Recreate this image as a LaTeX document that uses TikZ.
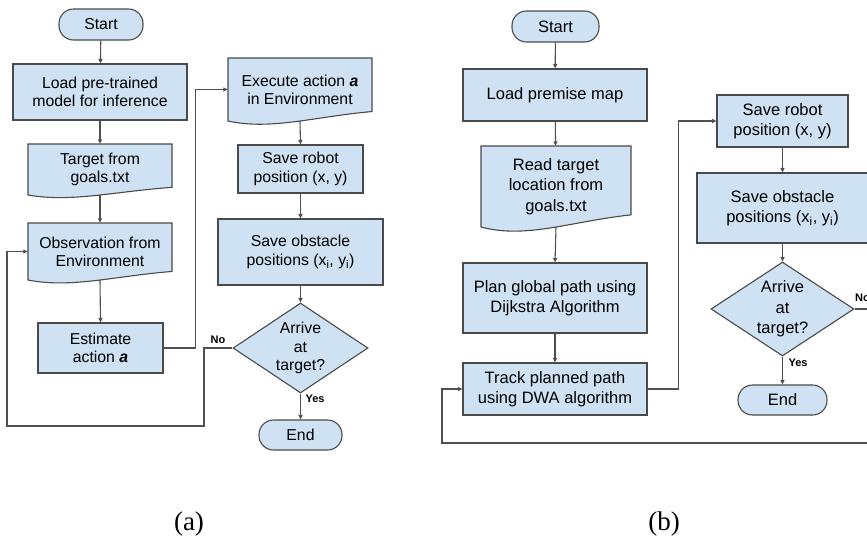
\documentclass[tikz,border=0pt]{standalone}
\usepackage{fontspec}
\setmainfont{Liberation Sans}
\newfontfamily\capfont{Liberation Serif}
\usetikzlibrary{shapes.geometric,arrows.meta}
\definecolor{fillblue}{HTML}{CFE2F3}
\definecolor{edgegray}{HTML}{4A4A4A}
\definecolor{linegray}{HTML}{505050}
\tikzset{
  fa/.style={font=\fontsize{15.8}{18.2}\selectfont},
  fb/.style={font=\fontsize{16.5}{20.3}\selectfont},
  box/.style={draw=edgegray, fill=fillblue, line width=1.1pt, inner sep=0pt, align=center},
  term/.style={box, rounded corners=14.5pt},
  dia/.style={diamond, draw=edgegray, fill=fillblue, line width=1.1pt, inner sep=0pt},
  doctext/.style={inner sep=0pt, align=center},
  docshape/.style={draw=edgegray, fill=fillblue, line width=1.1pt},
  conn/.style={draw=linegray, line width=1.1pt, -{Triangle[length=4.5pt,width=4pt]}},
  lbl/.style={font=\fontsize{11}{13}\selectfont\bfseries, inner sep=0pt},
  captext/.style={font=\capfont\fontsize{27}{30}\selectfont, inner sep=0pt}
}
% #1 name, #2 x1, #3 x2, #4 ytop, #5 y bottom-left, #6 style, #7 text
\newcommand\docnode[7]{%
  \draw[docshape] (#2,#4) -- (#3,#4) -- ({#3},{#5-0.15*(#5-#4)})
    .. controls ({#2+0.6*(#3-#2)},{#5-0.07*(#5-#4)}) and ({#2+0.3*(#3-#2)},{#5+0.15*(#5-#4)}) .. (#2,#5) -- cycle;
  \node[doctext, #6, minimum width={(#3-#2)*1pt}, minimum height={(#5-#4)*1pt}] (#1) at ({(#2+#3)/2},{(#4+#5)/2}) {#7};}
\begin{document}
\begin{tikzpicture}[x=1pt, y=-1pt]
\useasboundingbox (0,0) rectangle (867,542);
\clip (0,0) rectangle (867,542);

% ---------------- panel (a) ----------------
\node[term, fa, minimum width=84pt, minimum height=31pt] (sa) at (101,24.5) {Start};
\node[box, fa, minimum width=174pt, minimum height=56pt] (la) at (100,92) {Load pre-trained\\model for inference};
\docnode{ta}{28}{172}{144}{195}{fa}{Target from\\goals.txt}
\docnode{oa}{28}{172}{223}{280}{fa}{Observation from\\Environment}
\node[box, fa, minimum width=125pt, minimum height=50pt] (ea) at (100.5,348) {Estimate\\action \textbf{\textit{a}}};
\docnode{xa}{228}{372}{58}{121}{fa}{Execute action \textbf{\textit{a}}\\in Environment}
\node[box, fa, minimum width=125pt, minimum height=48pt] (ra) at (300.5,169) {Save robot\\position (x, y)};
\node[box, fa, minimum width=165pt, minimum height=66pt] (pa) at (300.5,252) {Save obstacle\\positions (x\textsubscript{i}, y\textsubscript{i})};
\node[dia, minimum width=135pt, minimum height=90pt] (da) at (300.5,348) {};
\node[doctext, fa] at (da) {Arrive\\at\\target?};
\node[term, fa, minimum width=83pt, minimum height=30pt] (ena) at (300.5,435) {End};

\draw[conn] (sa) -- (la);
\draw[conn] (la) -- (ta);
\draw[conn] (ta.south) -- (oa.north);
\draw[conn] (oa.south) -- (ea.north);
\draw[conn] (ea.east) -- ++(32,0) |- (xa.west);
\draw[conn] (xa.south) -- (ra.north);
\draw[conn] (ra) -- (pa);
\draw[conn] (pa.south) -- (da.north);
\draw[conn] (da.south) -- (ena.north);
\draw[conn] (da.west) -- (204,348) -- (204,426) -- (7,426) |- (oa.west);
\node[lbl] at (218,340) {No};
\node[lbl] at (315,399) {Yes};

% ---------------- panel (b) ----------------
\node[term, fb, minimum width=87pt, minimum height=31pt] (sb) at (555.5,26.5) {Start};
\node[box, fb, minimum width=184pt, minimum height=52pt] (lb) at (555,95) {Load premise map};
\docnode{tb}{481}{631}{146}{227}{fb}{Read target\\location from\\goals.txt}
\node[box, fb, minimum width=184pt, minimum height=70pt] (pb) at (555,298) {Plan global path using\\Dijkstra Algorithm};
\node[box, fb, minimum width=184pt, minimum height=52pt] (kb) at (555,389) {Track planned path\\using DWA algorithm};
\node[box, fb, minimum width=131pt, minimum height=52pt] (rb) at (782.5,121) {Save robot\\position (x, y)};
\node[box, fb, minimum width=171pt, minimum height=70pt] (ob) at (782.5,208) {Save obstacle\\positions (x\textsubscript{i}, y\textsubscript{i})};
\node[dia, minimum width=143pt, minimum height=94pt] (db) at (782.5,309) {};
\node[doctext, fb] at (db) {Arrive\\at\\target?};
\node[term, fb, minimum width=89pt, minimum height=30pt] (enb) at (782.5,400) {End};

\draw[conn] (sb) -- (lb);
\draw[conn] (lb) -- (tb);
\draw[conn] (tb.south) -- (pb.north);
\draw[conn] (pb) -- (kb);
\draw[conn] (kb.east) -- ++(31,0) |- (rb.west);
\draw[conn] (rb) -- (ob);
\draw[conn] (ob.south) -- (db.north);
\draw[conn] (db.south) -- (enb.north);
\draw[conn] (db.east) -- (890,309) -- (890,443) -- (442,443) |- (kb.west);
\node[lbl, anchor=west] at (855,298) {No};
\node[lbl] at (798,363) {Yes};

% captions
\node[captext] (capa) at (189,524) {(a)};
\node[captext] (capb) at (664,524) {(b)};
\end{tikzpicture}
\end{document}
